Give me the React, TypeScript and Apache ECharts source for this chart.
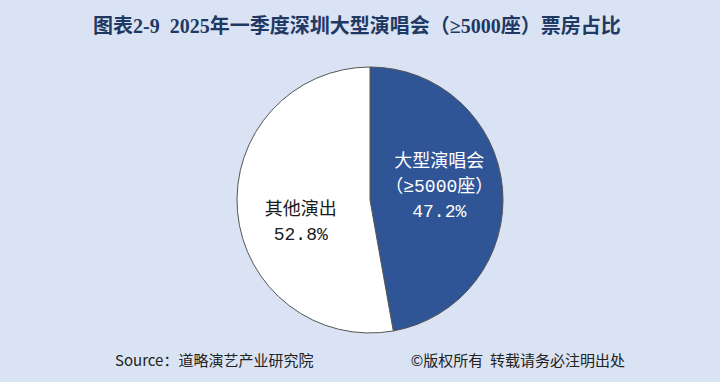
import React, { useEffect, useRef } from "react";
import * as echarts from "echarts";

const titleText = "图表2-9  2025年一季度深圳大型演唱会（≥5000座）票房占比";
const categories = ["大型演唱会\n（≥5000座）", "其他演出"];
const shares = [47.2, 52.8];
const sliceColors = ["#2f5597", "#ffffff"];
const labelColors = ["#ffffff", "#1a1a1a"];
const sourceText = "Source：道略演艺产业研究院";
const copyrightText = "©版权所有  转载请务必注明出处";

export default function App() {
  const ref = useRef<HTMLDivElement>(null);
  useEffect(() => {
    document.body.style.margin = "0";
    const chart = echarts.init(ref.current!, null, { renderer: "svg" });
    const labelFont = "'Liberation Mono', 'Noto Sans CJK SC', monospace";
    chart.setOption({
      animation: false,
      backgroundColor: "#dae3f3",
      title: [
        {
          text: titleText,
          left: 88,
          top: 11,
          textStyle: {
            color: "#1f3864",
            fontSize: 20,
            fontWeight: "bold",
            fontFamily: "'Liberation Serif', 'Times New Roman', 'Noto Sans CJK SC', serif",
          },
        },
        {
          text: sourceText,
          left: 110,
          top: 347,
          textStyle: { color: "#222", fontSize: 15, fontWeight: "normal", fontFamily: "'Noto Sans CJK SC', sans-serif" },
        },
        {
          text: copyrightText,
          right: 90,
          top: 347,
          textStyle: { color: "#222", fontSize: 15, fontWeight: "normal", fontFamily: "'Noto Sans CJK SC', sans-serif" },
        },
      ],
      series: [
        {
          type: "pie",
          center: [370, 200],
          radius: 133,
          startAngle: 90,
          clockwise: true,
          avoidLabelOverlap: false,
          itemStyle: { borderColor: "#555", borderWidth: 1 },
          label: {
            show: true,
            position: "inside",
            fontSize: 18,
            lineHeight: 25,
            fontFamily: labelFont,
            formatter: (p: any) => {
              const lines = String(p.name).split("\n").map((t) => `{a|${t}}`);
              lines.push(`{a|${p.value.toFixed(1)}%}`);
              return p.dataIndex === 0
                ? lines.join("\n") + "\n{s|}"
                : "{s|}\n" + lines.join("\n");
            },
            rich: {
              a: { fontSize: 18, lineHeight: 25, fontFamily: labelFont },
              s: { fontSize: 1, lineHeight: 13 },
            },
          },
          labelLine: { show: false },
          data: categories.map((c, i) => ({
            name: c,
            value: shares[i],
            itemStyle: { color: sliceColors[i] },
            label: {
              color: labelColors[i],
              rich: {
                a: { color: labelColors[i], fontSize: 18, lineHeight: 25, fontFamily: labelFont },
                s: { fontSize: 1, lineHeight: i === 0 ? 13 : 33 },
              },
            },
          })),
        },
      ],
    });
    return () => chart.dispose();
  }, []);
  return <div ref={ref} style={{ width: 720, height: 382 }} />;
}
